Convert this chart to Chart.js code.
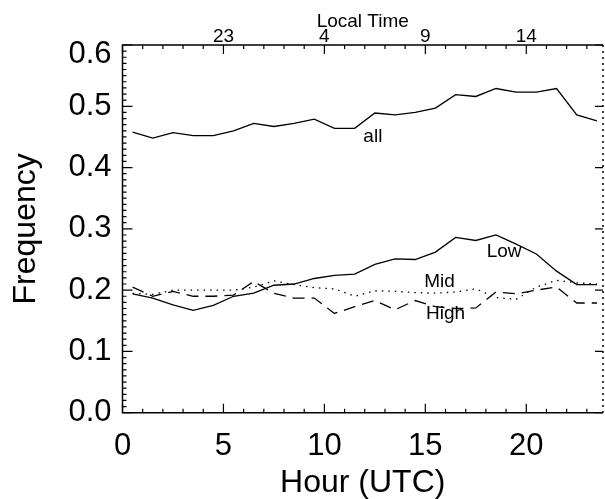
<!DOCTYPE html>
<html>
<head>
<meta charset="utf-8">
<script src="https://cdn.jsdelivr.net/npm/chart.js@4.4.0/dist/chart.umd.min.js"></script>
<style>
  html, body { margin: 0; padding: 0; background: #fff; }
</style>
</head>
<body>
<canvas id="chart" width="605" height="499"></canvas>
<script>
// hourly bins (UTC), centre of each hour
const hours = [0.5, 1.5, 2.5, 3.5, 4.5, 5.5, 6.5, 7.5, 8.5, 9.5, 10.5, 11.5,
               12.5, 13.5, 14.5, 15.5, 16.5, 17.5, 18.5, 19.5, 20.5, 21.5, 22.5, 23.5];
const allFreq  = [0.458, 0.448, 0.457, 0.452, 0.452, 0.460, 0.472, 0.467, 0.472, 0.479, 0.464, 0.464,
                  0.489, 0.486, 0.490, 0.497, 0.519, 0.516, 0.529, 0.523, 0.523, 0.529, 0.486, 0.476];
const lowFreq  = [0.194, 0.187, 0.176, 0.167, 0.175, 0.190, 0.195, 0.208, 0.210, 0.219, 0.224, 0.226,
                  0.242, 0.251, 0.250, 0.262, 0.286, 0.281, 0.290, 0.275, 0.259, 0.231, 0.209, 0.209];
const midFreq  = [0.195, 0.193, 0.200, 0.200, 0.200, 0.200, 0.205, 0.215, 0.209, 0.204, 0.202, 0.190,
                  0.199, 0.198, 0.196, 0.195, 0.197, 0.202, 0.188, 0.185, 0.205, 0.216, 0.212, 0.210];
const highFreq = [0.205, 0.190, 0.198, 0.190, 0.190, 0.192, 0.214, 0.195, 0.187, 0.187, 0.162, 0.173,
                  0.183, 0.168, 0.183, 0.173, 0.170, 0.171, 0.197, 0.194, 0.200, 0.205, 0.179, 0.179];

const hourTicks = [0, 5, 10, 15, 20];
const localOffset = -6;   // local time = UTC - 6
const freqTicks = [0.0, 0.1, 0.2, 0.3, 0.4, 0.5, 0.6];

// in-plot curve labels (data coordinates)
const curveNotes = [
  { text: 'all',  hour: 12.4, freq: 0.451 },
  { text: 'Low',  hour: 18.9, freq: 0.262 },
  { text: 'Mid',  hour: 15.7, freq: 0.213 },
  { text: 'High', hour: 16.0, freq: 0.161 }
];

const FONT = "'Liberation Sans', Arial, Helvetica, sans-serif";

const toPoints = (ys) => hours.map((h, i) => ({ x: h, y: ys[i] }));

// IDL style frame: inward ticks on all four sides, dotted right axis, curve labels
const framePlugin = {
  id: 'frame',
  afterDatasetsDraw(chart) {
    const { ctx, chartArea: a, scales } = chart;
    const x = scales.x, y = scales.y;
    ctx.save();
    ctx.strokeStyle = '#000';
    ctx.lineWidth = 1.5;
    ctx.beginPath();
    ctx.moveTo(a.right, a.top); ctx.lineTo(a.left, a.top);
    ctx.lineTo(a.left, a.bottom); ctx.lineTo(a.right, a.bottom);
    ctx.stroke();

    // right axis dotted
    ctx.setLineDash([2, 4]);
    ctx.beginPath();
    ctx.moveTo(a.right, a.top); ctx.lineTo(a.right, a.bottom);
    ctx.stroke();
    ctx.setLineDash([]);

    ctx.lineWidth = 1.2;
    ctx.beginPath();
    // x ticks every hour, bottom and top
    for (let h = 0; h <= 23; h++) {
      const px = x.getPixelForValue(h);
      const len = h % 5 === 0 ? 9 : 4;
      ctx.moveTo(px, a.bottom); ctx.lineTo(px, a.bottom - len);
      ctx.moveTo(px, a.top); ctx.lineTo(px, a.top + len);
    }
    // y ticks every 0.01 on the left, major on the right
    for (let k = 0; k <= 60; k++) {
      const py = y.getPixelForValue(k / 100);
      const major = k % 10 === 0;
      ctx.moveTo(a.left, py); ctx.lineTo(a.left + (major ? 10 : 4), py);
      if (major) { ctx.moveTo(a.right, py); ctx.lineTo(a.right - 8, py); }
    }
    ctx.stroke();

    ctx.fillStyle = '#000';
    ctx.font = '19px ' + FONT;
    ctx.textAlign = 'center';
    ctx.textBaseline = 'middle';
    curveNotes.forEach(n => {
      ctx.fillText(n.text, x.getPixelForValue(n.hour), y.getPixelForValue(n.freq));
    });
    ctx.restore();
  }
};

const lineStyle = { borderColor: '#000', borderWidth: 1.3, pointRadius: 0, tension: 0, fill: false };

new Chart(document.getElementById('chart').getContext('2d'), {
  type: 'line',
  data: {
    datasets: [
      { label: 'all',  data: toPoints(allFreq),  ...lineStyle },
      { label: 'Low',  data: toPoints(lowFreq),  ...lineStyle },
      { label: 'Mid',  data: toPoints(midFreq),  ...lineStyle, borderDash: [1.5, 5] },
      { label: 'High', data: toPoints(highFreq), ...lineStyle, borderDash: [12, 7] }
    ]
  },
  options: {
    responsive: false,
    animation: false,
    devicePixelRatio: 1,
    layout: { padding: { left: 0, right: 2, top: 0, bottom: 0 } },
    plugins: { legend: { display: false }, tooltip: { enabled: false } },
    scales: {
      x: {
        type: 'linear', position: 'bottom', min: 0, max: 23.8,
        grid: { display: false, drawTicks: false },
        border: { display: false },
        afterBuildTicks: s => { s.ticks = hourTicks.map(v => ({ value: v })); },
        afterFit: s => { s.height = 86.3; },
        ticks: { color: '#000', padding: 15, maxRotation: 0, font: { family: FONT, size: 31 },
                 callback: v => String(v) },
        title: { display: true, text: 'Hour (UTC)', color: '#000', padding: { top: 0, bottom: 0 },
                 font: { family: FONT, size: 32, lineHeight: 1 } }
      },
      xLocal: {
        type: 'linear', position: 'top', min: 0, max: 23.8, display: true,
        grid: { display: false, drawTicks: false },
        border: { display: false },
        afterBuildTicks: s => { s.ticks = hourTicks.slice(1).map(v => ({ value: v })); },
        afterFit: s => { s.height = 45; },
        ticks: { color: '#000', padding: -3, maxRotation: 0, font: { family: FONT, size: 19 },
                 callback: v => String((v + localOffset + 24) % 24) },
        title: { display: true, text: 'Local Time', color: '#000', padding: { top: 10, bottom: 0 },
                 font: { family: FONT, size: 19 } }
      },
      y: {
        type: 'linear', position: 'left', min: 0, max: 0.6,
        grid: { display: false, drawTicks: false },
        border: { display: false },
        // top label sits a little below the frame, as in the original plot
        afterBuildTicks: s => {
          s.ticks = freqTicks.map(v => ({ value: v === 0.6 ? 0.585 : v }));
        },
        afterFit: s => { s.width = 122.5; },
        ticks: { color: '#000', padding: 11, font: { family: FONT, size: 31 },
                 callback: v => (v > 0.58 ? 0.6 : v).toFixed(1) },
        title: { display: true, text: 'Frequency', color: '#000', padding: { top: 7, bottom: 0 },
                 font: { family: FONT, size: 32 } }
      }
    }
  },
  plugins: [framePlugin]
});
</script>
</body>
</html>
